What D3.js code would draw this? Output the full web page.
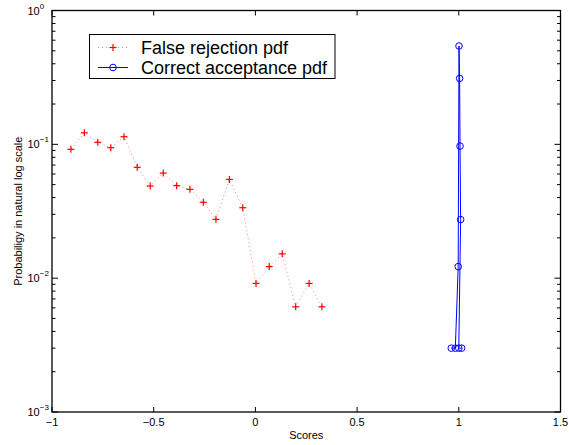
<!DOCTYPE html>
<html>
<head>
<meta charset="utf-8">
<script src="https://cdn.jsdelivr.net/npm/d3@7"></script>
<style>
  html, body { margin: 0; padding: 0; background: #fff; }
  svg { display: block; font-family: "Liberation Sans", Arial, Helvetica, sans-serif; }
</style>
</head>
<body>
<svg id="chart" width="569" height="445"></svg>
<script>
// ---- data ----
const falseRejX = [-0.907, -0.841, -0.775, -0.711, -0.646, -0.581, -0.517, -0.453, -0.387, -0.322,
                   -0.256, -0.194, -0.128, -0.062, 0.003, 0.068, 0.132, 0.198, 0.264, 0.327];
const falseRejY = [0.0918, 0.122, 0.1035, 0.0943, 0.114, 0.0673, 0.0488, 0.061, 0.0491, 0.0461,
                   0.0369, 0.0275, 0.0547, 0.0336, 0.00914, 0.0122, 0.0152, 0.00611, 0.00914, 0.00611];
const corrAccX = [0.963, 0.983, 0.997, 1.001, 1.004, 1.006, 1.009, 1.000, 1.014];
const corrAccY = [0.003, 0.003, 0.0122, 0.543, 0.311, 0.097, 0.0274, 0.003, 0.003];
const xTicks = [-1, -0.5, 0, 0.5, 1, 1.5];
const xTickLabels = ["\u22121", "\u22120.5", "0", "0.5", "1", "1.5"];
const yTicks = [1, 0.1, 0.01, 0.001];
const yTickExps = ["0", "\u22121", "\u22122", "\u22123"];
const legendLabels = ["False rejection pdf", "Correct acceptance pdf"];
const xLabel = "Scores";
const yLabel = "Probabiligy in natural log scale";

// ---- layout ----
const svg = d3.select("#chart");
const L = 52, R = 560.5, T = 10.5, B = 412;
const x = d3.scaleLinear().domain([-1, 1.5]).range([L, R]);
const y = d3.scaleLog().domain([0.001, 1]).range([B, T]);

const axisCol = "#000";
const g = svg.append("g");

// minor log ticks
const minor = [];
for (let e = -3; e < 0; e++) for (let k = 2; k <= 9; k++) minor.push(k * Math.pow(10, e));

// frame
g.append("rect").attr("x", L).attr("y", T).attr("width", R - L).attr("height", B - T)
  .attr("fill", "none").attr("stroke", axisCol).attr("stroke-width", 1.3);

// x ticks (bottom & top, inward)
xTicks.forEach(v => {
  g.append("line").attr("x1", x(v)).attr("x2", x(v)).attr("y1", B).attr("y2", B - 5)
    .attr("stroke", axisCol).attr("stroke-width", 1);
  g.append("line").attr("x1", x(v)).attr("x2", x(v)).attr("y1", T).attr("y2", T + 5)
    .attr("stroke", axisCol).attr("stroke-width", 1);
});
// y ticks (left & right, inward)
yTicks.forEach(v => {
  g.append("line").attr("x1", L).attr("x2", L + 6).attr("y1", y(v)).attr("y2", y(v))
    .attr("stroke", axisCol).attr("stroke-width", 1);
  g.append("line").attr("x1", R).attr("x2", R - 6).attr("y1", y(v)).attr("y2", y(v))
    .attr("stroke", axisCol).attr("stroke-width", 1);
});
minor.forEach(v => {
  g.append("line").attr("x1", L).attr("x2", L + 3.5).attr("y1", y(v)).attr("y2", y(v))
    .attr("stroke", axisCol).attr("stroke-width", 1);
  g.append("line").attr("x1", R).attr("x2", R - 3.5).attr("y1", y(v)).attr("y2", y(v))
    .attr("stroke", axisCol).attr("stroke-width", 1);
});

// x tick labels
xTicks.forEach((v, i) => {
  g.append("text").attr("x", x(v)).attr("y", 425.5).attr("text-anchor", "middle")
    .attr("font-size", 11).attr("fill", "#000").text(xTickLabels[i]);
});
// y tick labels
yTicks.forEach((v, i) => {
  const t = g.append("text").attr("x", 27.5).attr("y", y(v) + 4)
    .attr("font-size", 11).attr("fill", "#000");
  t.append("tspan").text("10");
  t.append("tspan").attr("dy", -6).attr("font-size", 8).text(yTickExps[i]);
});

// axis labels
g.append("text").attr("x", (L + R) / 2).attr("y", 439).attr("text-anchor", "middle")
  .attr("font-size", 11).attr("fill", "#000").text(xLabel);
g.append("text").attr("transform", `translate(21.5,${(T + B) / 2}) rotate(-90)`)
  .attr("text-anchor", "middle").attr("font-size", 11).attr("fill", "#000").text(yLabel);

// ---- series ----
const red = "#ff0000", blue = "#0000ff";
const frData = falseRejX.map((d, i) => [d, falseRejY[i]]);
const caData = corrAccX.map((d, i) => [d, corrAccY[i]]);
const line = d3.line().x(d => x(d[0])).y(d => y(d[1]));

g.append("path").attr("d", line(frData)).attr("fill", "none")
  .attr("stroke", red).attr("stroke-opacity", 0.5).attr("stroke-width", 1)
  .attr("stroke-dasharray", "1,3");
const plus = (sel, cx, cy, s) => {
  sel.append("line").attr("x1", cx - s).attr("x2", cx + s).attr("y1", cy).attr("y2", cy)
    .attr("stroke", red).attr("stroke-width", 1.2);
  sel.append("line").attr("x1", cx).attr("x2", cx).attr("y1", cy - s).attr("y2", cy + s)
    .attr("stroke", red).attr("stroke-width", 1.2);
};
frData.forEach(d => plus(g, x(d[0]), y(d[1]), 3.5));

g.append("path").attr("d", line(caData)).attr("fill", "none")
  .attr("stroke", blue).attr("stroke-width", 1);
caData.forEach(d => {
  g.append("circle").attr("cx", x(d[0])).attr("cy", y(d[1])).attr("r", 3.3)
    .attr("fill", "none").attr("stroke", blue).attr("stroke-width", 1);
});

// ---- legend ----
const lg = g.append("g");
lg.append("rect").attr("x", 89.5).attr("y", 34.5).attr("width", 245.5).attr("height", 44)
  .attr("fill", "#fff").attr("stroke", "#000").attr("stroke-width", 1);
const rows = [47.5, 67.5];
// row 1
lg.append("line").attr("x1", 98).attr("x2", 128).attr("y1", rows[0]).attr("y2", rows[0])
  .attr("stroke", red).attr("stroke-opacity", 0.5).attr("stroke-dasharray", "1,3");
plus(lg, 113, rows[0], 3.5);
// row 2
lg.append("line").attr("x1", 98).attr("x2", 128).attr("y1", rows[1]).attr("y2", rows[1])
  .attr("stroke", blue).attr("stroke-width", 1);
lg.append("circle").attr("cx", 113).attr("cy", rows[1]).attr("r", 3.3)
  .attr("fill", "none").attr("stroke", blue);
legendLabels.forEach((s, i) => {
  lg.append("text").attr("x", 141).attr("y", rows[i] + 6.5).attr("font-size", 18)
    .attr("fill", "#000").text(s);
});
</script>
</body>
</html>
